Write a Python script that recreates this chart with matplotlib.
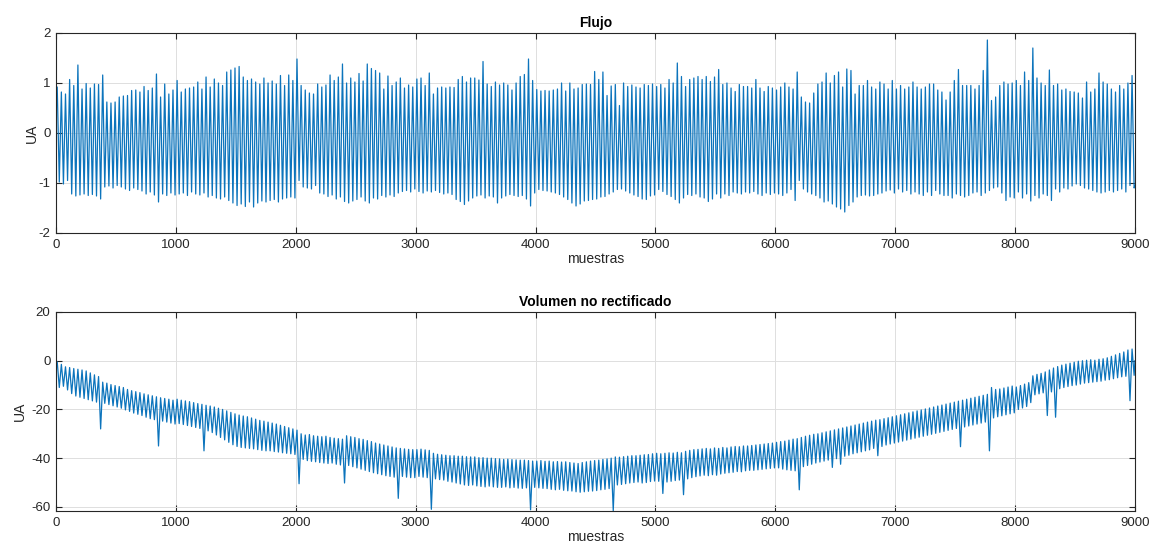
import matplotlib.pyplot as plt

plt.rcParams['font.family'] = ['Liberation Sans', 'DejaVu Sans']
plt.rcParams['axes.unicode_minus'] = False

BLOQUE = 1000        # muestras por bloque
N_MUESTRAS = 9000
AZUL = '#0c74bc'

# Flujo: maximos y minimos de cada ciclo, un renglon por bloque de 1000 muestras
flujo_picos = [
    [0.92, 0.82, 0.78, 1.07, 0.95, 1.36, 0.88, 0.99, 0.90, 0.98, 0.97, 1.16, 0.62, 0.60, 0.62,
     0.72, 0.74, 0.75, 0.85, 0.86, 0.82, 0.93, 0.85, 0.90, 1.18, 0.72, 0.98, 0.78, 0.86],
    [1.05, 0.82, 0.88, 0.90, 0.92, 1.02, 0.88, 1.12, 0.92, 1.08, 1.00, 0.95, 1.22, 1.26, 1.30,
     1.33, 1.12, 1.05, 1.08, 1.02, 0.98, 1.10, 1.00, 1.04, 0.98, 1.15, 0.95, 1.16, 1.05],
    [1.48, 0.95, 0.86, 0.80, 0.78, 0.98, 0.92, 0.96, 1.16, 1.05, 1.12, 1.38, 1.00, 1.10, 1.02,
     1.19, 1.04, 1.38, 1.29, 1.25, 1.20, 0.88, 1.14, 0.95, 1.02, 1.10, 0.90, 0.96, 0.92],
    [1.08, 1.10, 0.95, 1.20, 0.78, 0.90, 0.92, 0.90, 0.92, 0.91, 1.07, 1.13, 1.02, 1.10, 1.10,
     1.06, 1.43, 0.98, 0.93, 1.02, 0.96, 1.00, 0.96, 0.86, 1.00, 1.13, 1.17, 1.48, 1.05],
    [0.87, 0.84, 0.85, 0.84, 0.86, 0.88, 1.00, 0.84, 1.00, 0.88, 0.90, 0.97, 0.98, 0.97, 1.23,
     1.07, 1.22, 0.75, 0.94, 0.97, 0.55, 1.00, 0.93, 0.96, 0.92, 0.90, 0.97, 0.95, 0.98],
    [0.93, 0.97, 0.90, 1.07, 1.00, 1.40, 1.13, 0.93, 1.07, 1.10, 1.13, 1.07, 1.13, 1.03, 1.12,
     1.27, 0.97, 1.00, 0.90, 0.83, 0.97, 0.93, 0.93, 0.90, 1.07, 0.90, 0.83, 0.93, 0.90],
    [0.86, 0.92, 1.00, 0.92, 0.88, 1.22, 0.72, 0.62, 0.60, 0.80, 0.98, 1.02, 1.20, 1.00, 1.15,
     1.22, 0.92, 1.28, 1.25, 0.78, 0.95, 0.95, 1.05, 0.92, 0.88, 1.02, 0.98, 0.88, 1.05],
    [0.88, 0.95, 0.88, 0.92, 1.02, 0.92, 0.88, 0.92, 0.98, 0.98, 0.86, 0.82, 0.66, 0.82, 1.05,
     1.27, 0.95, 0.95, 0.95, 0.88, 0.95, 1.25, 1.86, 0.65, 0.72, 0.95, 1.02, 0.98, 1.00],
    [1.05, 0.95, 1.22, 1.05, 1.70, 1.10, 1.00, 0.95, 1.26, 0.95, 0.98, 0.86, 0.88, 0.83, 0.82,
     0.80, 0.70, 1.02, 0.82, 0.88, 1.20, 1.02, 0.98, 0.88, 0.82, 0.95, 0.88, 1.00, 1.15],
]
flujo_valles = [
    [-0.98, -1.02, -0.95, -1.22, -1.26, -1.24, -1.22, -1.25, -1.23, -1.26, -1.32, -1.08, -1.06, -1.10, -1.05,
     -1.08, -1.12, -1.15, -1.10, -1.13, -1.16, -1.22, -1.18, -1.24, -1.38, -1.22, -1.25, -1.20, -1.24],
    [-1.22, -1.20, -1.25, -1.18, -1.22, -1.24, -1.20, -1.28, -1.25, -1.30, -1.32, -1.28, -1.35, -1.40, -1.45,
     -1.42, -1.47, -1.38, -1.48, -1.40, -1.36, -1.38, -1.35, -1.33, -1.38, -1.32, -1.30, -1.28, -1.30],
    [-0.95, -1.08, -1.10, -1.12, -1.05, -1.20, -1.22, -1.27, -1.24, -1.32, -1.28, -1.37, -1.40, -1.36, -1.33,
     -1.28, -1.36, -1.40, -1.30, -1.32, -1.25, -1.28, -1.24, -1.27, -1.20, -1.17, -1.15, -1.18, -1.12],
    [-1.17, -1.20, -1.16, -1.18, -1.15, -1.19, -1.22, -1.20, -1.23, -1.33, -1.37, -1.43, -1.36, -1.30, -1.26,
     -1.24, -1.30, -1.26, -1.28, -1.40, -1.30, -1.26, -1.23, -1.25, -1.27, -1.25, -1.32, -1.46, -1.20],
    [-1.13, -1.15, -1.16, -1.18, -1.20, -1.23, -1.28, -1.33, -1.40, -1.46, -1.42, -1.36, -1.35, -1.33, -1.32,
     -1.28, -1.27, -1.22, -1.18, -1.13, -1.12, -1.16, -1.20, -1.24, -1.27, -1.32, -1.33, -1.26, -1.24],
    [-1.13, -1.17, -1.23, -1.27, -1.33, -1.40, -1.30, -1.23, -1.25, -1.22, -1.28, -1.30, -1.37, -1.32, -1.22,
     -1.30, -1.22, -1.25, -1.18, -1.20, -1.22, -1.18, -1.20, -1.17, -1.22, -1.25, -1.20, -1.23, -1.20],
    [-1.22, -1.25, -1.20, -1.13, -1.35, -0.95, -1.12, -1.18, -1.22, -1.25, -1.30, -1.38, -1.36, -1.42, -1.48,
     -1.52, -1.58, -1.45, -1.38, -1.28, -1.25, -1.24, -1.26, -1.25, -1.22, -1.20, -1.16, -1.14, -1.20],
    [-1.12, -1.18, -1.15, -1.22, -1.18, -1.22, -1.25, -1.18, -1.25, -1.15, -1.22, -1.25, -1.25, -1.30, -1.22,
     -1.25, -1.28, -1.25, -1.20, -1.18, -1.25, -1.20, -1.15, -1.10, -1.08, -1.20, -1.35, -1.28, -1.30],
    [-1.18, -1.30, -1.22, -1.36, -1.25, -1.30, -1.22, -1.25, -1.35, -1.12, -1.18, -1.10, -1.12, -1.06, -1.02,
     -1.05, -1.10, -1.12, -1.15, -1.18, -1.20, -1.18, -1.15, -1.18, -1.15, -1.12, -1.18, -1.05, -1.10],
]
flujo_inicio, flujo_fin = 0.9, -1.05

# Volumen no rectificado (con deriva)
vol_picos = [
    [-0.5, -1.5, -2.5, -2.8, -3.2, -3.5, -3.8, -4.2, -5.0, -5.8, -6.5, -8.8, -9.2, -9.8, -10.2,
     -10.6, -11.0, -11.8, -12.3, -12.7, -13.1, -13.6, -14.0, -14.4, -14.8, -15.2, -15.5, -15.8, -16.2],
    [-15.8, -16.2, -16.5, -16.8, -17.2, -17.6, -17.9, -18.3, -18.6, -19.0, -19.5, -20.0, -20.6, -21.2, -21.8,
     -22.3, -22.7, -23.0, -23.5, -24.0, -24.5, -24.8, -25.2, -25.6, -26.0, -26.5, -27.0, -27.5, -28.0],
    [-28.5, -30.0, -30.5, -30.3, -30.8, -31.0, -31.2, -31.0, -31.5, -31.8, -32.0, -32.2, -30.8, -31.2, -31.5,
     -32.0, -32.3, -32.8, -33.2, -33.8, -34.2, -34.6, -35.0, -35.4, -35.8, -36.0, -36.2, -36.4, -36.5],
    [-36.5, -36.3, -36.6, -36.8, -38.0, -38.4, -38.6, -38.8, -39.0, -39.0, -39.2, -39.2, -39.4, -39.5, -39.5,
     -39.8, -39.8, -40.0, -40.0, -40.2, -40.3, -40.5, -40.4, -40.6, -40.7, -40.8, -40.8, -41.0, -41.2],
    [-41.2, -41.0, -41.3, -41.2, -41.5, -41.4, -41.6, -41.5, -41.8, -42.0, -42.2, -41.8, -41.5, -41.2, -41.0,
     -40.8, -40.5, -40.3, -40.0, -39.5, -39.6, -39.4, -39.2, -39.0, -39.0, -38.8, -38.6, -38.5, -38.2],
    [-38.0, -38.2, -38.0, -37.8, -37.9, -37.6, -37.8, -37.2, -36.8, -36.5, -36.4, -36.2, -36.0, -36.2, -35.8,
     -36.0, -35.6, -35.8, -35.4, -35.2, -35.3, -35.0, -35.0, -34.8, -34.6, -34.4, -34.2, -34.0, -33.8],
    [-33.5, -33.2, -33.0, -32.6, -32.2, -32.0, -31.5, -31.0, -30.6, -30.2, -30.0, -29.6, -29.2, -28.8, -28.4,
     -28.0, -27.6, -27.2, -26.8, -26.4, -26.0, -25.6, -25.2, -24.8, -24.4, -24.2, -23.8, -23.4, -23.0],
    [-22.6, -22.2, -21.8, -21.4, -21.0, -20.6, -20.2, -19.8, -19.4, -19.0, -18.6, -18.2, -17.8, -17.4, -17.0,
     -16.6, -16.2, -15.8, -15.4, -15.0, -14.6, -14.2, -13.8, -11.0, -11.8, -11.6, -11.2, -10.8, -10.4],
    [-10.8, -10.2, -9.6, -9.0, -6.2, -5.6, -5.2, -4.6, -3.8, -3.0, -2.4, -1.8, -1.4, -1.0, -0.6,
     -0.2, 0.0, 0.2, 0.4, 0.2, 0.6, 0.8, 1.2, 1.8, 2.4, 3.0, 3.6, 4.4, 4.8],
]
vol_valles = [
    [-11.0, -10.5, -12.0, -13.5, -14.5, -15.0, -15.5, -16.0, -16.5, -17.0, -28.0, -17.5, -18.0, -18.5, -19.0,
     -19.5, -20.2, -20.8, -21.5, -22.0, -22.5, -23.2, -23.8, -24.2, -35.0, -24.8, -25.2, -25.6, -26.0],
    [-25.8, -26.2, -26.6, -27.0, -27.4, -27.8, -37.0, -28.8, -29.5, -30.5, -31.5, -32.5, -33.5, -34.5, -35.2,
     -35.6, -35.8, -36.0, -36.2, -36.5, -36.8, -37.0, -37.0, -37.3, -37.5, -37.8, -38.0, -38.2, -38.5],
    [-50.5, -40.5, -41.0, -41.3, -41.5, -41.8, -42.0, -42.2, -42.0, -42.5, -42.8, -50.2, -43.0, -43.5, -44.0,
     -44.5, -45.0, -45.5, -46.0, -46.4, -46.8, -47.2, -47.5, -47.8, -56.5, -47.5, -47.8, -48.0, -48.0],
    [-47.5, -47.8, -48.0, -61.0, -48.5, -48.8, -49.0, -49.5, -49.8, -50.2, -50.6, -51.0, -51.2, -51.0, -51.4,
     -51.6, -51.8, -51.5, -51.8, -52.0, -52.0, -51.8, -52.2, -52.0, -52.3, -52.4, -52.2, -61.2, -52.0],
    [-52.2, -52.4, -52.5, -52.8, -53.0, -52.8, -53.2, -53.4, -53.5, -53.8, -54.0, -53.8, -53.6, -53.5, -53.3,
     -53.0, -52.8, -52.5, -61.6, -51.0, -50.8, -50.5, -50.2, -50.0, -49.8, -50.2, -50.0, -49.6, -49.4],
    [-49.5, -54.5, -49.8, -49.5, -49.2, -49.0, -55.0, -48.5, -48.0, -47.6, -47.3, -47.0, -47.2, -46.8, -47.0,
     -46.5, -46.2, -46.0, -45.8, -45.5, -45.6, -45.2, -45.0, -45.0, -44.8, -44.6, -44.4, -44.2, -44.0],
    [-44.0, -44.5, -44.8, -45.0, -45.2, -53.0, -43.5, -43.0, -42.5, -42.0, -41.6, -41.2, -40.8, -43.8, -40.2,
     -42.5, -39.2, -38.8, -38.2, -37.8, -37.4, -37.0, -36.6, -36.0, -39.0, -35.2, -34.6, -34.2, -33.8],
    [-33.4, -33.0, -32.6, -32.2, -31.8, -31.4, -31.0, -30.6, -30.2, -29.8, -29.4, -29.0, -28.6, -28.2, -27.8,
     -35.3, -27.2, -26.8, -26.4, -26.0, -25.6, -25.2, -37.0, -23.5, -23.0, -22.6, -22.2, -21.8, -21.4],
    [-20.0, -19.4, -18.8, -17.2, -14.0, -13.6, -13.2, -22.5, -12.8, -23.2, -11.5, -11.0, -10.6, -10.2, -10.0,
     -9.6, -9.2, -9.0, -8.8, -8.6, -8.4, -8.0, -7.8, -7.4, -7.0, -6.6, -6.4, -16.4, -6.0],
]
vol_inicio, vol_fin = -2.0, 0.0


def armar_serie(picos, valles, inicio, fin):
    # cada ciclo: un maximo y un minimo dentro de su bloque de muestras
    x, y = [0], [inicio]
    for b, (p_blq, v_blq) in enumerate(zip(picos, valles)):
        paso = BLOQUE / len(p_blq)
        for i, (p, v) in enumerate(zip(p_blq, v_blq)):
            x += [b * BLOQUE + (i + 0.3) * paso, b * BLOQUE + (i + 0.8) * paso]
            y += [p, v]
    x.append(N_MUESTRAS)
    y.append(fin)
    return x, y


def estilo_matlab(ax, titulo, pad_y):
    ax.set_xlim(0, N_MUESTRAS)
    ax.set_xticks(range(0, N_MUESTRAS + 1, 1000))
    ax.grid(True, color='#dedede', linewidth=0.7)
    ax.set_axisbelow(True)
    ax.tick_params(direction='in', top=True, right=True, length=4, width=0.8,
                   labelsize=9.5, colors='#262626', pad=4)
    for s in ax.spines.values():
        s.set_color('#262626')
        s.set_linewidth(0.8)
    ax.set_title(titulo, fontsize=10, fontweight='bold', pad=4)
    ax.set_xlabel('muestras', fontsize=10, color='#262626', labelpad=1)
    ax.set_ylabel('UA', fontsize=10, color='#262626', labelpad=pad_y)


fig = plt.figure(figsize=(11.52, 5.49), dpi=100)
ax1 = fig.add_axes([0.0486, 0.5756, 0.9366, 0.3643])
ax2 = fig.add_axes([0.0486, 0.0692, 0.9366, 0.3625])

x, y = armar_serie(flujo_picos, flujo_valles, flujo_inicio, flujo_fin)
ax1.plot(x, y, color=AZUL, linewidth=0.9)
ax1.set_ylim(-2, 2)
ax1.set_yticks([-2, -1, 0, 1, 2])
estilo_matlab(ax1, 'Flujo', 0)

x, y = armar_serie(vol_picos, vol_valles, vol_inicio, vol_fin)
ax2.plot(x, y, color=AZUL, linewidth=0.9)
ax2.set_ylim(-61.7, 20)
ax2.set_yticks([-60, -40, -20, 0, 20])
estilo_matlab(ax2, 'Volumen no rectificado', 3)

fig.savefig('out.png', dpi=100)
